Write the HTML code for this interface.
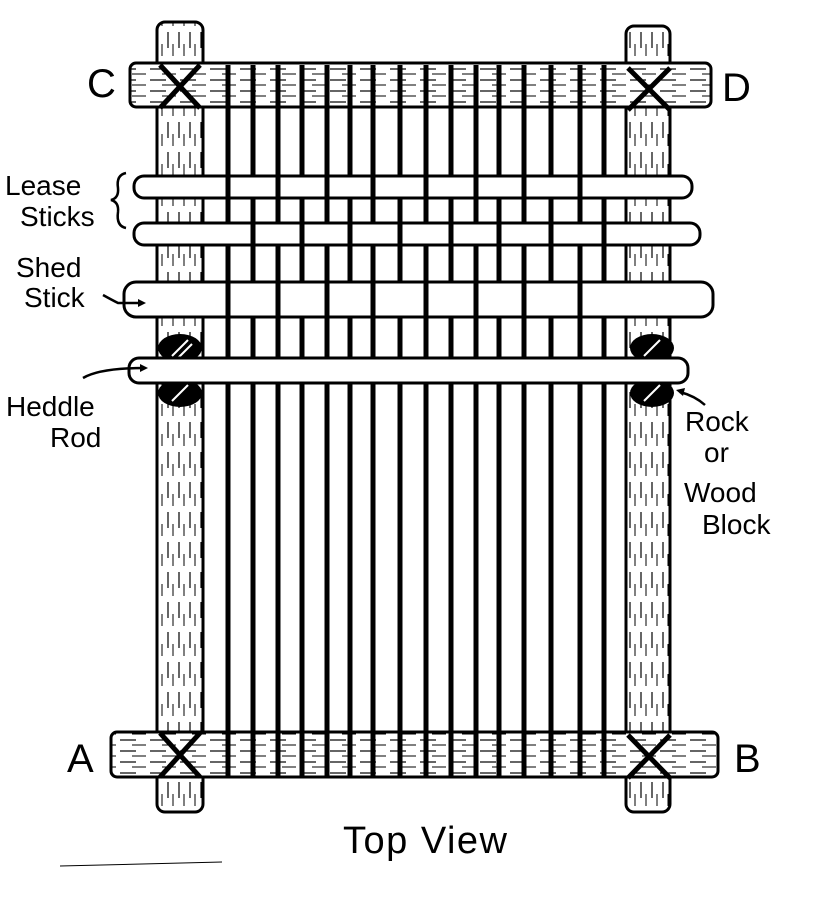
<!DOCTYPE html>
<html><head><meta charset="utf-8"><style>
html,body{margin:0;padding:0;background:#fff;}
svg{display:block}
text{font-family:"Liberation Sans",sans-serif;fill:#000}
</style></head><body>
<svg width="814" height="898" viewBox="0 0 814 898" xmlns="http://www.w3.org/2000/svg">
<defs>
<pattern id="grain" width="11" height="30" patternUnits="userSpaceOnUse">
<rect width="11" height="30" fill="#fff"/><line x1="3" y1="2" x2="3" y2="18" stroke="#000" stroke-width="1.2"/><line x1="8" y1="14" x2="8" y2="26" stroke="#000" stroke-width="1"/>
</pattern>
<pattern id="hgrain" width="30" height="11" patternUnits="userSpaceOnUse">
<rect width="30" height="11" fill="#fff"/><line x1="0" y1="3" x2="16" y2="3" stroke="#000" stroke-width="1.2"/><line x1="12" y1="8" x2="26" y2="8" stroke="#000" stroke-width="1"/>
</pattern>
</defs>
<g stroke="#000" stroke-width="3">
<rect x="157" y="22" width="46" height="790" rx="8" fill="url(#grain)"/>
<rect x="626" y="26" width="44" height="786" rx="8" fill="url(#grain)"/>
<rect x="130" y="63" width="581" height="44" rx="6" fill="url(#hgrain)"/>
<rect x="111" y="732" width="607" height="45" rx="6" fill="url(#hgrain)"/>
</g>
<g stroke="#000" stroke-width="5">
<line x1="160" y1="65" x2="200" y2="108"/><line x1="200" y1="65" x2="160" y2="108"/>
<line x1="628" y1="68" x2="670" y2="110"/><line x1="670" y1="68" x2="628" y2="110"/>
<line x1="160" y1="733" x2="200" y2="777"/><line x1="200" y1="733" x2="160" y2="777"/>
<line x1="628" y1="735" x2="670" y2="778"/><line x1="670" y1="735" x2="628" y2="778"/>
</g>
<g fill="#000">
<ellipse cx="180" cy="348" rx="22" ry="14"/><ellipse cx="180" cy="393" rx="22" ry="14"/>
<ellipse cx="652" cy="348" rx="22" ry="14"/><ellipse cx="652" cy="393" rx="22" ry="14"/>
</g>
<g stroke="#fff" stroke-width="2">
<line x1="172" y1="356" x2="188" y2="340"/><line x1="178" y1="358" x2="192" y2="344"/>
<line x1="172" y1="401" x2="188" y2="385"/><line x1="644" y1="356" x2="660" y2="340"/>
<line x1="644" y1="401" x2="660" y2="385"/>
</g>
<g stroke="#000" stroke-width="5">
<line x1="228" y1="65" x2="228" y2="777"/><line x1="253" y1="65" x2="253" y2="777"/>
<line x1="278" y1="65" x2="278" y2="777"/><line x1="302" y1="65" x2="302" y2="777"/>
<line x1="327" y1="65" x2="327" y2="777"/><line x1="350" y1="65" x2="350" y2="777"/>
<line x1="373" y1="65" x2="373" y2="777"/><line x1="400" y1="65" x2="400" y2="777"/>
<line x1="426" y1="65" x2="426" y2="777"/><line x1="451" y1="65" x2="451" y2="777"/>
<line x1="476" y1="65" x2="476" y2="777"/><line x1="499" y1="65" x2="499" y2="777"/>
<line x1="524" y1="65" x2="524" y2="777"/><line x1="551" y1="65" x2="551" y2="777"/>
<line x1="580" y1="65" x2="580" y2="777"/><line x1="604" y1="65" x2="604" y2="777"/>
</g>
<g stroke="#000" stroke-width="3" fill="#fff">
<rect x="134" y="176" width="558" height="22" rx="10"/>
<rect x="134" y="223" width="566" height="22" rx="10"/>
<rect x="124" y="282" width="589" height="35" rx="12"/>
<rect x="129" y="358" width="559" height="25" rx="10"/>
</g>
<g stroke="#000" stroke-width="5">
<line x1="228" y1="176" x2="228" y2="198"/><line x1="278" y1="176" x2="278" y2="198"/>
<line x1="327" y1="176" x2="327" y2="198"/><line x1="373" y1="176" x2="373" y2="198"/>
<line x1="426" y1="176" x2="426" y2="198"/><line x1="476" y1="176" x2="476" y2="198"/>
<line x1="524" y1="176" x2="524" y2="198"/><line x1="580" y1="176" x2="580" y2="198"/>
<line x1="253" y1="223" x2="253" y2="245"/><line x1="302" y1="223" x2="302" y2="245"/>
<line x1="350" y1="223" x2="350" y2="245"/><line x1="400" y1="223" x2="400" y2="245"/>
<line x1="451" y1="223" x2="451" y2="245"/><line x1="499" y1="223" x2="499" y2="245"/>
<line x1="551" y1="223" x2="551" y2="245"/><line x1="604" y1="223" x2="604" y2="245"/>
<line x1="228" y1="282" x2="228" y2="317"/><line x1="278" y1="282" x2="278" y2="317"/>
<line x1="327" y1="282" x2="327" y2="317"/><line x1="373" y1="282" x2="373" y2="317"/>
<line x1="426" y1="282" x2="426" y2="317"/><line x1="476" y1="282" x2="476" y2="317"/>
<line x1="524" y1="282" x2="524" y2="317"/><line x1="580" y1="282" x2="580" y2="317"/>
</g>
<g stroke="#000" stroke-width="2.5" fill="none">
<path d="M126 173 Q116 175 118 188 Q119 198 111 200 Q119 202 118 212 Q116 226 126 228"/>
<path d="M103 295 Q112 300 118 303 L143 303"/>
<path d="M83 378 Q100 368 145 368"/>
<path d="M680 392 Q695 396 705 405"/>
</g>
<g fill="#000">
<polygon points="146,303 138,299 138,307"/>
<polygon points="148,368 140,364 140,372"/>
<polygon points="676,390 685,388 683,396"/>
</g>
<text x="87" y="97" font-size="40">C</text>
<text x="722" y="101" font-size="40">D</text>
<text x="67" y="772" font-size="40">A</text>
<text x="734" y="772" font-size="40">B</text>
<text x="5" y="195" font-size="28">Lease</text>
<text x="20" y="226" font-size="28">Sticks</text>
<text x="16" y="277" font-size="28">Shed</text>
<text x="24" y="307" font-size="28">Stick</text>
<text x="6" y="416" font-size="28">Heddle</text>
<text x="50" y="447" font-size="28">Rod</text>
<text x="685" y="431" font-size="28">Rock</text>
<text x="704" y="462" font-size="28">or</text>
<text x="684" y="502" font-size="28">Wood</text>
<text x="702" y="534" font-size="28">Block</text>
<text x="343" y="853" font-size="38" letter-spacing="1.5">Top View</text>
<line x1="60" y1="866" x2="222" y2="862" stroke="#000" stroke-width="1"/>
</svg>
</body></html>
